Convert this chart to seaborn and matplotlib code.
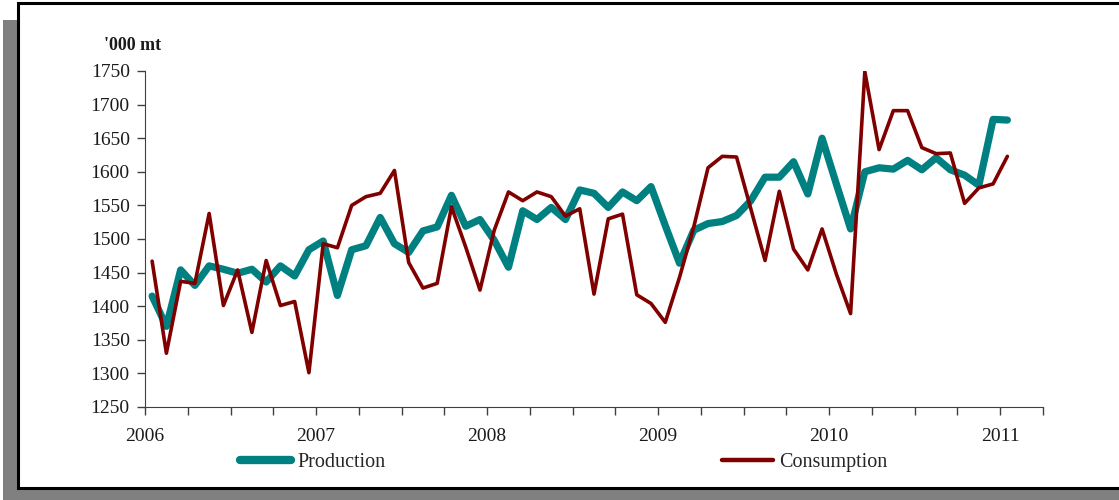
import pandas as pd
import seaborn as sns
import matplotlib.pyplot as plt
from matplotlib.patches import Rectangle
from matplotlib.ticker import MultipleLocator

# monthly values, Jan 2006 .. Jan 2011 ('000 mt)
production = [1415, 1370, 1454, 1431, 1460, 1455, 1449, 1455, 1436, 1460,
              1445, 1484, 1497, 1416, 1484, 1490, 1532, 1493, 1480, 1512,
              1518, 1565, 1519, 1529, 1498, 1458, 1542, 1529, 1547, 1529,
              1573, 1568, 1547, 1570, 1557, 1578, 1520, 1464, 1513, 1523,
              1526, 1535, 1557, 1592, 1592, 1615, 1567, 1650, 1582, 1515,
              1600, 1606, 1604, 1617, 1603, 1621, 1603, 1595, 1580, 1678,
              1677]
consumption = [1467, 1330, 1437, 1434, 1538, 1401, 1454, 1361, 1468, 1401,
               1407, 1301, 1493, 1487, 1550, 1563, 1568, 1602, 1465, 1427,
               1434, 1548, 1488, 1424, 1513, 1570, 1557, 1570, 1563, 1534,
               1545, 1418, 1530, 1537, 1417, 1404, 1376, 1443, 1518, 1606,
               1623, 1622, 1545, 1468, 1571, 1485, 1454, 1515, 1448, 1389,
               1749, 1633, 1691, 1691, 1636, 1627, 1628, 1553, 1576, 1582,
               1623]
year_labels = ["2006", "2007", "2008", "2009", "2010", "2011"]
y_ticks = [1250, 1300, 1350, 1400, 1450, 1500, 1550, 1600, 1650, 1700, 1750]

months = pd.date_range("2006-01-01", periods=len(production), freq="MS")
# place each month in the middle of its slot on a decimal-year axis
xpos = months.year + (months.month - 0.5) / 12

df = pd.DataFrame({
    "x": list(xpos) * 2,
    "value": production + consumption,
    "series": ["Production"] * len(production) + ["Consumption"] * len(consumption),
})

sns.set_style("ticks")
plt.rcParams["font.family"] = ["Liberation Serif", "DejaVu Serif"]

fig = plt.figure(figsize=(11.19, 5), dpi=100)

# shadowed frame behind the chart
fig.patches.append(Rectangle((3 / 1119, 0), 1.0, 0.96, transform=fig.transFigure,
                             facecolor="#808080", edgecolor="none", zorder=0))
fig.patches.append(Rectangle((18 / 1119, 12 / 500), 1.0, 0.97, transform=fig.transFigure,
                             facecolor="white", edgecolor="black", linewidth=2.2, zorder=1))

ax = fig.add_axes([145 / 1119, 93 / 500, 898 / 1119, 336 / 500])
ax.set_zorder(3)
ax.set_facecolor("none")

palette = {"Production": "#008080", "Consumption": "#800000"}
sizes = {"Production": 5.2, "Consumption": 2.6}
sns.lineplot(data=df, x="x", y="value", hue="series", palette=palette,
             size="series", sizes=sizes, ax=ax, legend=False)

ax.set_xlim(2006, 2011.25)
ax.set_ylim(1250, 1750)
ax.set_yticks(y_ticks)
ax.set_xticks([int(y) for y in year_labels])
ax.set_xticklabels(year_labels)
ax.xaxis.set_minor_locator(MultipleLocator(0.25))
ax.tick_params(axis="x", which="both", length=6, width=1, color="#404040",
               direction="out", pad=9, labelsize=14)
ax.tick_params(axis="y", length=6, width=1, color="#404040", direction="out",
               pad=5, labelsize=14)
for lbl in ax.get_xticklabels() + ax.get_yticklabels():
    lbl.set_color("#1a1a1a")
ax.set_xlabel("")
ax.set_ylabel("")
sns.despine(ax=ax)
ax.spines["left"].set_color("#404040")
ax.spines["bottom"].set_color("#404040")

fig.text(104 / 1119, 1 - 45 / 500, "'000 mt", fontsize=13, fontweight="bold",
         ha="left", va="center", color="#1a1a1a", zorder=4)

handles = [plt.Line2D([], [], color="#008080", lw=6, solid_capstyle="round"),
           plt.Line2D([], [], color="#800000", lw=3.2, solid_capstyle="round")]
leg = fig.legend(handles, ["Production", "Consumption"], loc="center left",
                 bbox_to_anchor=(240 / 1119, 1 - 462 / 500), ncol=2, frameon=False,
                 fontsize=14.5, handlelength=2.55, handletextpad=0.3,
                 columnspacing=16.7, borderpad=0, borderaxespad=0)
leg.set_zorder(4)

plt.savefig("out.png", dpi=100)
